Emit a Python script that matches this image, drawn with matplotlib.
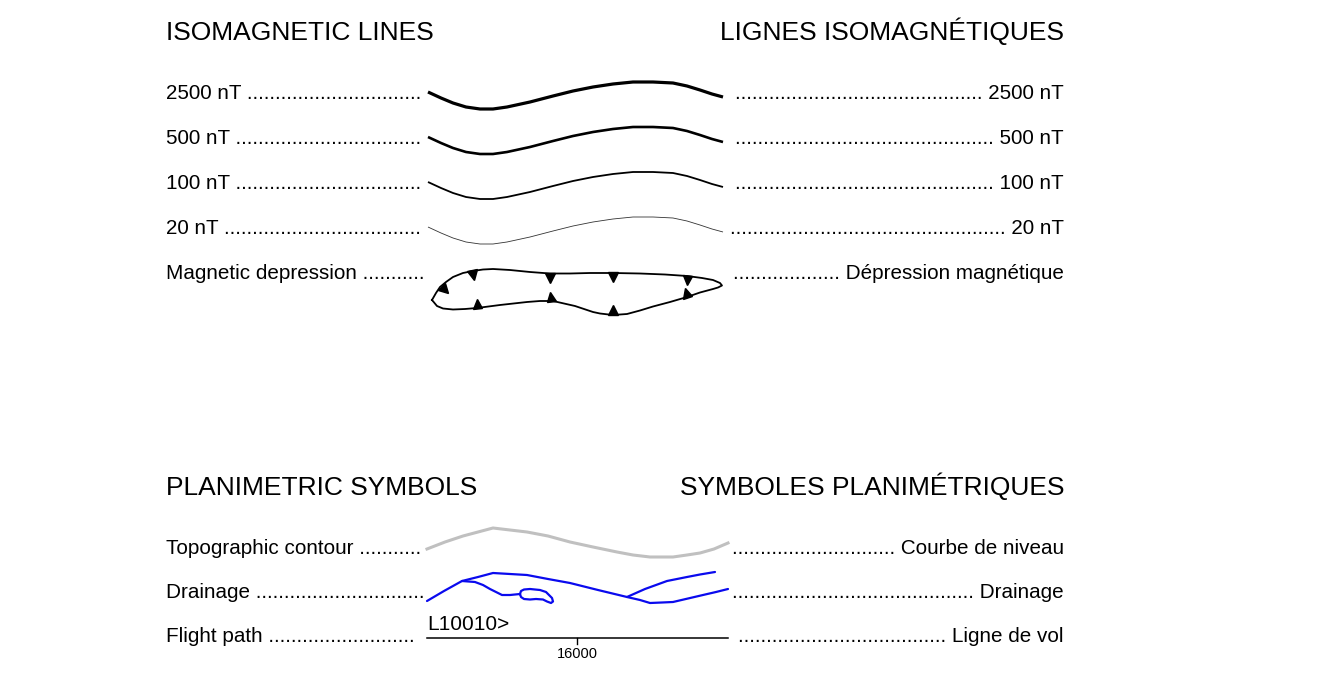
import matplotlib
matplotlib.use("Agg")
import matplotlib.pyplot as plt
from matplotlib.markers import MarkerStyle
from matplotlib.transforms import Affine2D

plt.rcParams['font.family'] = ['Liberation Sans', 'DejaVu Sans']

# --- legend texts ---------------------------------------------------------
titles_left = ["ISOMAGNETIC LINES", "PLANIMETRIC SYMBOLS"]
titles_right = ["LIGNES ISOMAGNÉTIQUES", "SYMBOLES PLANIMÉTRIQUES"]
title_y = [40, 495]

labels_en = ["2500 nT", "500 nT", "100 nT", "20 nT", "Magnetic depression",
             "Topographic contour", "Drainage", "Flight path"]
labels_fr = ["2500 nT", "500 nT", "100 nT", "20 nT", "Dépression magnétique",
             "Courbe de niveau", "Drainage", "Ligne de vol"]
row_y = [99, 144, 189, 234, 279, 554, 598, 642]

# --- isomagnetic sample curve (offsets from row baseline) -----------------
wave_x = [428, 441, 453, 466, 480, 493, 507, 530, 553, 573, 593, 613, 633, 653, 673, 687, 700, 712, 723]
wave_dy = [-7, -1, 4, 8, 10, 10, 8, 3, -3, -8, -12, -15, -17, -17, -16, -13, -9, -5, -2]
iso_levels = ["2500", "500", "100", "20"]
iso_width = [2.3, 1.9, 1.3, 0.6]
iso_color = ["black", "black", "black", "#333333"]

# --- magnetic depression outline -----------------------------------------
dep_x = [432, 436, 440, 446, 453, 463, 473, 483, 493, 510, 530, 550, 570, 590, 613, 640, 665,
         687, 702, 713, 720, 722, 718, 713, 700, 687, 670, 653, 640, 627, 613, 600, 593,
         575, 553, 540, 527, 500, 477, 465, 453, 443, 437, 432]
dep_y = [300, 293, 287, 282, 277, 273, 271, 269.5, 269, 270, 272, 273.5, 273.5, 273, 273, 273.5, 274.5,
         276, 278, 280, 283, 285.5, 287.5, 289, 292.5, 297, 302, 306.5, 310.5, 314, 315, 313.5, 312,
         306, 301, 301, 302, 305, 308, 309, 309.5, 308.5, 306, 300]
tick_x = [445, 473, 550, 613, 687, 477, 551, 613, 686]
tick_y = [290, 275, 278, 277, 280, 304, 297, 310, 293]
tick_dir = ["v", "v", "v", "v", "v", "^", "^", "^", "^"]
tick_rot = [45, 12, 0, 0, -5, 5, 8, 0, 15]

# --- planimetric symbols --------------------------------------------------
topo_x = [427, 445, 463, 478, 493, 510, 527, 548, 570, 593, 617, 633, 650, 662, 673, 687, 700, 714, 728]
topo_y = [549, 542, 536, 532, 528, 530, 532, 536, 542, 547, 552, 555, 557, 557, 557, 555, 553, 549, 543]

drain_main_x = [427, 444, 462, 478, 493, 510, 527, 548, 570, 598, 627, 640, 650, 662, 673, 688, 703, 716, 728]
drain_main_y = [601, 591, 581, 577, 573, 574, 575, 579, 583, 590, 597, 600, 603, 602.5, 602, 598.5, 595, 592, 589]
drain_branch_x = [627, 645, 667, 687, 700, 715]
drain_branch_y = [597, 589, 581, 577, 574.5, 572]
drain_creek_x = [462, 475, 483, 490, 496, 502, 510, 520, 521, 524, 530, 540, 546, 549, 552, 553, 551,
                 547, 543, 536, 530, 524, 521, 520]
drain_creek_y = [581, 582, 585, 589, 592, 595, 595, 594, 591, 589.5, 589, 590, 592, 595, 598, 601.5, 603,
                 601.5, 599.5, 599, 599.5, 599, 597, 594]

flight_x = [427, 728]
flight_y = 638
fid_x = 577
fid_label = "16000"
line_label = "L10010>"

# --- figure ---------------------------------------------------------------
fig = plt.figure(figsize=(13.27, 6.96), dpi=100)
ax = fig.add_axes([0, 0, 1, 1])
ax.set_xlim(0, 1327)
ax.set_ylim(696, 0)
ax.axis("off")

fs = 14.9
left_x, right_x = 166, 1064
for t, y in zip(titles_left, title_y):
    ax.text(left_x, y, t, fontsize=19, va="baseline", ha="left")
for t, y in zip(titles_right, title_y):
    ax.text(right_x, y, t, fontsize=19, va="baseline", ha="right")

fig.canvas.draw()
renderer = fig.canvas.get_renderer()


def leader_left(label, y, stop):
    t = ax.text(left_x, y, label + " ", fontsize=fs, va="baseline", ha="left")
    limit = ax.transData.transform((stop, 0))[0]
    s = label + " "
    while True:
        t.set_text(s + ".")
        if t.get_window_extent(renderer).x1 > limit:
            t.set_text(s)
            break
        s += "."


def leader_right(label, y, stop):
    t = ax.text(right_x, y, " " + label, fontsize=fs, va="baseline", ha="right")
    limit = ax.transData.transform((stop, 0))[0]
    s = " " + label
    while True:
        t.set_text("." + s)
        if t.get_window_extent(renderer).x0 < limit:
            t.set_text(s)
            break
        s = "." + s


for i, (en, fr, y) in enumerate(zip(labels_en, labels_fr, row_y)):
    leader_left(en, y, 425 if i < 7 else 420)
    leader_right(fr, y, 730 if i < 7 else 738)

# isomagnetic lines
for k in range(len(iso_levels)):
    base = row_y[k]
    ax.plot(wave_x, [base + d for d in wave_dy], color=iso_color[k],
            lw=iso_width[k], solid_capstyle="butt", solid_joinstyle="round")

# magnetic depression
ax.plot(dep_x, dep_y, color="black", lw=1.3, solid_joinstyle="round")
for x, y, m, r in zip(tick_x, tick_y, tick_dir, tick_rot):
    ms = MarkerStyle(m, transform=Affine2D().rotate_deg(r))
    ax.plot([x], [y], marker=ms, color="black", markersize=7, linestyle="none")

# topographic contour
ax.plot(topo_x, topo_y, color="#c0c0c0", lw=2.2, solid_joinstyle="round")

# drainage
for xs, ys in [(drain_main_x, drain_main_y), (drain_branch_x, drain_branch_y),
               (drain_creek_x, drain_creek_y)]:
    ax.plot(xs, ys, color="#0a0aee", lw=1.6, solid_joinstyle="round", solid_capstyle="round")

# flight path
ax.plot(flight_x, [flight_y, flight_y], color="black", lw=1.1)
ax.plot([fid_x, fid_x], [flight_y, flight_y + 6], color="black", lw=1.0)
ax.text(fid_x, flight_y + 9, fid_label, fontsize=10.5, ha="center", va="top")
ax.text(flight_x[0], flight_y - 8, line_label, fontsize=15, ha="left", va="baseline")

fig.savefig("out.png", dpi=100)
